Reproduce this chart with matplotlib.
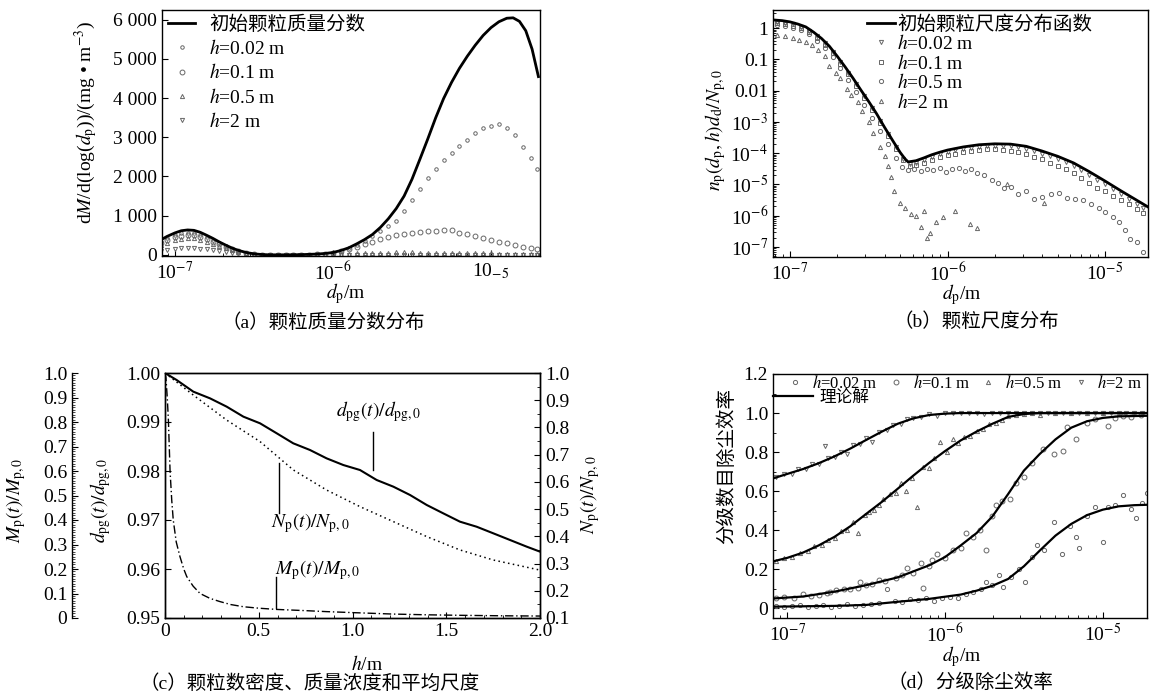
import numpy as np
import matplotlib
matplotlib.use('Agg')
import matplotlib.pyplot as plt
from matplotlib.ticker import FixedLocator, MultipleLocator, LogLocator, NullFormatter

plt.rcParams['font.family'] = ['Liberation Serif', 'Noto Sans CJK SC']
plt.rcParams['mathtext.fontset'] = 'stix'
plt.rcParams['font.size'] = 14
plt.rcParams['axes.linewidth'] = 1.0

# ---------------- (a) mass fraction, dM/dlog(dp) ----------------
a_init_logd = [-7.09, -7.05, -7.00, -6.96, -6.92, -6.88, -6.84, -6.80, -6.76, -6.72,
               -6.68, -6.64, -6.60, -6.55, -6.50, -6.45, -6.40, -6.30, -6.20, -6.10,
               -6.05, -6.00, -5.95, -5.90, -5.85, -5.80, -5.75, -5.70, -5.65, -5.60,
               -5.55, -5.50, -5.45, -5.40, -5.35, -5.30, -5.25, -5.20, -5.15, -5.10,
               -5.05, -5.00, -4.95, -4.90, -4.86, -4.82, -4.78, -4.74, -4.70]
a_init = [380, 470, 560, 615, 635, 625, 575, 500, 420, 330,
          250, 175, 115, 60, 25, 8, 0, 0, 5, 20,
          35, 60, 110, 180, 280, 390, 520, 700, 920, 1180,
          1500, 1930, 2440, 2960, 3500, 3990, 4400, 4760, 5070, 5350,
          5600, 5800, 5950, 6040, 6050, 5960, 5720, 5250, 4550]
a_mk_logd = [-7.09, -7.05, -7.00, -6.96, -6.92, -6.88, -6.84, -6.80, -6.76, -6.72,
             -6.68, -6.64, -6.60, -6.55, -6.50, -6.45, -6.40, -6.35, -6.30, -6.25,
             -6.20, -6.15, -6.10, -6.05, -6.00, -5.95, -5.90, -5.85, -5.80, -5.75,
             -5.70, -5.65, -5.60, -5.55, -5.50, -5.45, -5.40, -5.35, -5.30, -5.25,
             -5.20, -5.15, -5.10, -5.05, -5.00, -4.95, -4.90, -4.85, -4.80, -4.75, -4.71]
a_h002 = [340, 420, 500, 545, 565, 555, 510, 445, 370, 290,
          220, 155, 100, 50, 20, 6, 0, 0, 0, 0,
          2, 6, 15, 30, 55, 100, 165, 260, 360, 480,
          620, 740, 870, 1120, 1400, 1680, 1950, 2200, 2420, 2600,
          2780, 2940, 3100, 3230, 3300, 3350, 3250, 3060, 2740, 2480, 2200]
a_h01 = [300, 375, 445, 490, 505, 495, 460, 400, 335, 265,
         200, 140, 92, 48, 18, 5, 0, 0, 0, 0,
         2, 5, 14, 28, 50, 90, 140, 200, 270, 340,
         400, 450, 500, 535, 565, 590, 605, 620, 640, 645,
         560, 520, 480, 430, 380, 335, 290, 250, 210, 175, 150]
a_h05 = [250, 310, 370, 410, 430, 420, 390, 340, 285, 225,
         170, 120, 80, 40, 15, 4, 0, 0, 0, 0,
         0, 2, 5, 10, 15, 22, 30, 38, 45, 50,
         55, 58, 60, 60, 60, 58, 55, 52, 50, 47,
         45, 42, 40, 37, 35, 32, 30, 27, 25, 22, 20]
a_h2 = [100, 130, 155, 170, 175, 170, 160, 140, 115, 90,
        65, 45, 28, 14, 5, 0, 0, 0, 0, 0,
        0, 0, 0, 1, 2, 3, 4, 5, 6, 7,
        8, 8, 8, 8, 8, 8, 8, 7, 7, 6,
        6, 5, 5, 5, 4, 4, 3, 3, 3, 2, 2]

# ---------------- (b) size distribution (log10 values) ----------------
b_init_logd = [-7.10, -7.05, -7.00, -6.95, -6.90, -6.85, -6.80, -6.75, -6.70, -6.65,
               -6.60, -6.55, -6.50, -6.45, -6.40, -6.35, -6.30, -6.27, -6.25, -6.20,
               -6.15, -6.10, -6.05, -6.00, -5.90, -5.80, -5.70, -5.60, -5.50, -5.40,
               -5.30, -5.20, -5.10, -5.00, -4.90, -4.80, -4.72]
b_init_logn = [0.26, 0.24, 0.20, 0.13, 0.04, -0.13, -0.33, -0.58, -0.90, -1.24,
               -1.60, -1.98, -2.35, -2.74, -3.17, -3.58, -3.98, -4.18, -4.28, -4.24,
               -4.15, -4.05, -3.97, -3.90, -3.80, -3.73, -3.70, -3.71, -3.78, -3.93,
               -4.10, -4.31, -4.59, -4.89, -5.20, -5.50, -5.74]
b_mk_logd = [-7.08, -7.03, -6.98, -6.93, -6.88, -6.83, -6.78, -6.73, -6.68, -6.63,
             -6.58, -6.53, -6.48, -6.43, -6.38, -6.33, -6.28, -6.24, -6.20, -6.15,
             -6.10, -6.05, -6.00, -5.95, -5.90, -5.85, -5.80, -5.75, -5.70, -5.65,
             -5.60, -5.55, -5.50, -5.45, -5.40, -5.35, -5.30, -5.25, -5.20, -5.15,
             -5.10, -5.05, -5.00, -4.95, -4.90, -4.85, -4.80, -4.76]
b_h002 = [0.20, 0.17, 0.12, 0.05, -0.08, -0.26, -0.48, -0.76, -1.09, -1.43,
          -1.80, -2.18, -2.57, -2.97, -3.39, -3.80, -4.17, -4.33, -4.30, -4.21,
          -4.11, -4.03, -3.96, -3.91, -3.86, -3.82, -3.79, -3.77, -3.76, -3.77,
          -3.78, -3.81, -3.86, -3.93, -4.01, -4.10, -4.19, -4.29, -4.40, -4.54,
          -4.69, -4.85, -5.00, -5.15, -5.31, -5.47, -5.62, -5.74]
b_h01 = [0.15, 0.12, 0.07, 0.00, -0.13, -0.31, -0.53, -0.81, -1.14, -1.48,
         -1.85, -2.23, -2.62, -3.02, -3.44, -3.86, -4.23, -4.40, -4.38, -4.30,
         -4.21, -4.13, -4.06, -4.01, -3.96, -3.92, -3.89, -3.88, -3.88, -3.89,
         -3.92, -3.97, -4.03, -4.11, -4.20, -4.30, -4.40, -4.52, -4.64, -4.79,
         -4.95, -5.10, -5.22, -5.36, -5.50, -5.64, -5.78, -5.90]
b_h05_logd = [-7.08, -7.03, -6.98, -6.93, -6.88, -6.83, -6.78, -6.73, -6.68, -6.63,
              -6.58, -6.53, -6.48, -6.43, -6.38, -6.33, -6.29, -6.25, -6.21, -6.17,
              -6.13, -6.09, -6.05, -6.01, -5.97, -5.93, -5.89, -5.85, -5.81, -5.77,
              -5.72, -5.68, -5.64, -5.60, -5.55, -5.50, -5.45, -5.40, -5.34, -5.29,
              -5.24, -5.19, -5.14, -5.09, -5.04, -5.00, -4.95, -4.91, -4.87, -4.84,
              -4.80, -4.76]
b_h05 = [0.10, 0.07, 0.02, -0.06, -0.20, -0.40, -0.63, -0.93, -1.28, -1.65,
         -2.05, -2.45, -2.86, -3.28, -3.72, -4.15, -4.45, -4.55, -4.52, -4.58,
         -4.50, -4.55, -4.48, -4.60, -4.52, -4.47, -4.56, -4.50, -4.62, -4.70,
         -4.85, -4.95, -5.10, -5.08, -5.30, -5.20, -5.45, -5.40, -5.30, -5.28,
         -5.42, -5.48, -5.50, -5.62, -5.75, -5.87, -6.05, -6.20, -6.45, -6.73,
         -6.85, -7.15]
b_h2_logd = [-7.08, -7.03, -6.98, -6.94, -6.90, -6.86, -6.82, -6.78, -6.75, -6.71,
             -6.68, -6.64, -6.61, -6.57, -6.54, -6.50, -6.47, -6.43, -6.40, -6.38,
             -6.36, -6.34, -6.30, -6.27, -6.23, -6.20, -6.17, -6.15, -6.13, -6.11,
             -6.07, -6.03, -5.95, -5.86, -5.81, -5.62, -5.39]
b_h2 = [-0.22, -0.26, -0.31, -0.37, -0.44, -0.55, -0.70, -0.90, -1.20, -1.45,
        -1.60, -1.95, -2.15, -2.35, -2.65, -3.00, -3.35, -3.80, -4.10, -4.40,
        -4.75, -5.20, -5.60, -5.75, -5.95, -6.00, -6.35, -5.85, -6.70, -6.55,
        -6.20, -6.05, -5.85, -6.25, -6.40, -5.00, -5.60]

# ---------------- (c) number, mass and mean size vs h ----------------
c_d_h = [0.0, 0.062, 0.151, 0.24, 0.329, 0.418, 0.507, 0.596, 0.684, 0.773, 0.862, 0.951,
         1.04, 1.129, 1.218, 1.307, 1.396, 1.484, 1.573, 1.662, 1.751, 1.84, 1.929, 2.0]
c_dpg = [1.0, 0.99857, 0.99619, 0.99483, 0.99313, 0.99109, 0.98973, 0.98769, 0.98565,
         0.98429, 0.98258, 0.98122, 0.9802, 0.97816, 0.9768, 0.9751, 0.97306, 0.97136,
         0.96966, 0.96863, 0.96728, 0.96592, 0.96456, 0.96354]
c_n_h = [0.0, 0.151, 0.329, 0.507, 0.684, 0.862, 1.04, 1.218, 1.396, 1.573, 1.751, 2.0]
c_np = [1.0, 0.919, 0.827, 0.748, 0.644, 0.570, 0.509, 0.454, 0.399, 0.35, 0.313, 0.276]
c_m_h = [0.0, 0.005, 0.012, 0.018, 0.027, 0.036, 0.044, 0.06, 0.08, 0.1, 0.116, 0.15,
         0.187, 0.24, 0.293, 0.35, 0.418, 0.5, 0.596, 0.75, 0.862, 1.0, 1.218, 1.4,
         1.573, 1.8, 2.0]
c_mp = [1.0, 0.98, 0.90, 0.81, 0.60, 0.48, 0.40, 0.31, 0.25, 0.20, 0.169, 0.13,
        0.10, 0.08, 0.067, 0.055, 0.046, 0.04, 0.035, 0.03, 0.026, 0.022, 0.016, 0.013,
        0.011, 0.009, 0.008]

# ---------------- (d) fractional collection efficiency ----------------
d_th1_logd = [-7.09, -7.0, -6.9, -6.8, -6.7, -6.6, -6.5, -6.4, -6.3, -6.2, -6.1, -6.0,
              -5.9, -5.5, -5.0, -4.72]
d_th1 = [0.665, 0.688, 0.713, 0.743, 0.778, 0.818, 0.862, 0.905, 0.945, 0.973, 0.990,
         0.997, 1.0, 1.0, 1.0, 1.0]
d_th2_logd = [-7.09, -7.0, -6.9, -6.8, -6.7, -6.6, -6.5, -6.4, -6.3, -6.2, -6.1, -6.0,
              -5.9, -5.8, -5.7, -5.6, -5.5, -5.4, -5.0, -4.72]
d_th2 = [0.240, 0.258, 0.285, 0.322, 0.366, 0.420, 0.483, 0.545, 0.612, 0.680, 0.745,
         0.805, 0.860, 0.905, 0.945, 0.980, 0.995, 1.0, 1.0, 1.0]
d_th3_logd = [-7.09, -6.9, -6.7, -6.5, -6.3, -6.1, -6.0, -5.9, -5.8, -5.7, -5.6, -5.5,
              -5.4, -5.3, -5.2, -5.1, -5.0, -4.9, -4.72]
d_th3 = [0.050, 0.060, 0.085, 0.118, 0.158, 0.220, 0.262, 0.322, 0.385, 0.470, 0.585,
         0.705, 0.790, 0.865, 0.925, 0.958, 0.975, 0.983, 0.986]
d_th4_logd = [-7.09, -6.7, -6.5, -6.3, -6.1, -5.9, -5.8, -5.7, -5.6, -5.5, -5.4, -5.3,
              -5.2, -5.1, -5.0, -4.9, -4.8, -4.72]
d_th4 = [0.008, 0.012, 0.017, 0.033, 0.048, 0.070, 0.090, 0.115, 0.150, 0.215, 0.295,
         0.372, 0.432, 0.477, 0.505, 0.522, 0.528, 0.530]

d_h2_logd = [-7.07, -7.02, -6.97, -6.93, -6.88, -6.84, -6.80, -6.76, -6.74, -6.70,
             -6.66, -6.62, -6.58, -6.54, -6.50, -6.46, -6.42, -6.37, -6.33, -6.28,
             -6.24, -6.20, -6.15, -6.10, -6.05, -6.00, -5.95, -5.90, -5.85, -5.80,
             -5.75, -5.70, -5.65, -5.60, -5.55, -5.50, -5.45, -5.40, -5.35, -5.30,
             -5.25, -5.20, -5.15, -5.10, -5.05, -5.00, -4.95, -4.90, -4.85, -4.80, -4.75]
d_h2 = [0.672, 0.690, 0.688, 0.712, 0.715, 0.738, 0.740, 0.830, 0.770, 0.775,
        0.800, 0.790, 0.835, 0.840, 0.870, 0.850, 0.905, 0.915, 0.940, 0.945,
        0.968, 0.975, 0.980, 0.995, 0.985, 1.0, 0.998, 1.0, 1.0, 1.0,
        0.995, 1.0, 1.0, 1.0, 1.0, 1.0, 1.0, 1.0, 1.0, 1.0,
        1.0, 1.0, 1.0, 1.0, 1.0, 1.0, 1.0, 1.0, 1.0, 1.0, 1.0]
d_h05_logd = [-7.07, -7.02, -6.97, -6.92, -6.87, -6.83, -6.78, -6.74, -6.70, -6.66,
              -6.62, -6.58, -6.55, -6.51, -6.48, -6.45, -6.42, -6.39, -6.35, -6.31,
              -6.28, -6.25, -6.21, -6.18, -6.14, -6.10, -6.07, -6.03, -5.99, -5.95,
              -5.92, -5.88, -5.84, -5.80, -5.76, -5.72, -5.68, -5.64, -5.60, -5.55,
              -5.50, -5.45, -5.40, -5.30, -5.20, -5.10, -5.00, -4.90, -4.80, -4.75]
d_h05 = [0.240, 0.258, 0.262, 0.285, 0.292, 0.318, 0.325, 0.352, 0.360, 0.395,
         0.400, 0.442, 0.383, 0.480, 0.492, 0.505, 0.527, 0.560, 0.585, 0.590,
         0.640, 0.600, 0.668, 0.520, 0.725, 0.720, 0.770, 0.850, 0.800, 0.867,
         0.845, 0.875, 0.880, 0.910, 0.918, 0.945, 0.950, 0.965, 0.985, 0.992,
         0.995, 1.0, 0.990, 1.0, 1.0, 1.0, 1.0, 1.0, 1.0, 1.0]
d_h01_logd = [-7.07, -7.02, -6.96, -6.90, -6.85, -6.80, -6.75, -6.73, -6.69, -6.64,
              -6.60, -6.55, -6.54, -6.50, -6.46, -6.42, -6.38, -6.31, -6.27, -6.24,
              -6.20, -6.15, -6.14, -6.10, -6.08, -6.05, -6.00, -5.95, -5.90, -5.87,
              -5.82, -5.78, -5.74, -5.70, -5.68, -5.64, -5.59, -5.55, -5.50, -5.45,
              -5.38, -5.31, -5.25, -5.23, -5.17, -5.10, -5.05, -4.97, -4.92, -4.87,
              -4.82, -4.76]
d_h01 = [0.050, 0.058, 0.052, 0.075, 0.062, 0.068, 0.080, 0.085, 0.092, 0.100,
         0.098, 0.105, 0.136, 0.120, 0.125, 0.144, 0.140, 0.153, 0.170, 0.204,
         0.180, 0.230, 0.102, 0.215, 0.246, 0.280, 0.255, 0.300, 0.310, 0.383,
         0.365, 0.400, 0.300, 0.470, 0.527, 0.550, 0.561, 0.640, 0.671, 0.745,
         0.816, 0.790, 0.808, 0.927, 0.867, 0.950, 0.968, 0.935, 0.975, 0.985,
         0.980, 0.990]
d_h002_logd = [-7.07, -7.02, -6.97, -6.92, -6.87, -6.82, -6.77, -6.72, -6.67, -6.62,
               -6.57, -6.52, -6.47, -6.42, -6.37, -6.32, -6.27, -6.22, -6.17, -6.12,
               -6.07, -6.02, -5.97, -5.92, -5.87, -5.82, -5.77, -5.74, -5.70, -5.66,
               -5.63, -5.58, -5.53, -5.49, -5.45, -5.42, -5.37, -5.31, -5.26, -5.21,
               -5.17, -5.15, -5.10, -5.05, -5.00, -4.97, -4.92, -4.87, -4.82, -4.79,
               -4.75, -4.72]
d_h002 = [0.010, 0.005, 0.012, 0.015, 0.008, 0.010, 0.018, 0.006, 0.012, 0.020,
          0.010, 0.015, 0.022, 0.028, 0.100, 0.035, 0.030, 0.045, 0.040, 0.050,
          0.038, 0.055, 0.060, 0.050, 0.075, 0.085, 0.100, 0.136, 0.120, 0.170,
          0.110, 0.160, 0.200, 0.136, 0.260, 0.323, 0.300, 0.442, 0.280, 0.420,
          0.365, 0.310, 0.470, 0.520, 0.340, 0.518, 0.530, 0.578, 0.510, 0.460,
          0.540, 0.590]

h_labels = [r'$h$=0.02 m', r'$h$=0.1 m', r'$h$=0.5 m', r'$h$=2 m']
captions = ['（a）颗粒质量分数分布', '（b）颗粒尺度分布',
            '（c）颗粒数密度、质量浓度和平均尺度', '（d）分级除尘效率']

W, H = 1151, 696
fig = plt.figure(figsize=(W / 100, H / 100), dpi=100)


def box(x0, y0, x1, y1):
    return [x0 / W, 1 - y1 / H, (x1 - x0) / W, (y1 - y0) / H]


def ftext(x, y, s, **kw):
    fig.text(x / W, 1 - y / H, s, ha='center', va='center', **kw)


def style(ax):
    ax.tick_params(which='both', direction='in', labelsize=14)
    ax.tick_params(which='major', length=4, width=0.8)
    ax.tick_params(which='minor', length=2, width=0.6)


def p10(v):
    return 10.0 ** np.asarray(v)


MK = dict(ls='none', color='0.4', mfc='none', mew=0.7)
log_labels = {1e-7: r'10$^{-7}$', 1e-6: r'10$^{-6}$', 1e-5: r'10$^{-5}$'}

# ---------- (a) ----------
ax = fig.add_axes(box(162, 10, 540, 256))
l0, = ax.plot(p10(a_init_logd), a_init, color='k', lw=2.0, zorder=5)
l1, = ax.plot(p10(a_mk_logd), a_h002, marker='o', ms=2.5, **MK)
l2, = ax.plot(p10(a_mk_logd), a_h01, marker='o', ms=3.5, **MK)
l3, = ax.plot(p10(a_mk_logd), a_h05, marker='^', ms=3, **MK)
l4, = ax.plot(p10(a_mk_logd), a_h2, marker='v', ms=3, **MK)
ax.set_xscale('log')
ax.set_xlim(10 ** -7.082, 10 ** -4.69)
ax.set_ylim(-30, 6250)
ax.set_yticks(range(0, 6001, 1000))
ax.set_yticklabels(['0', '1 000', '2 000', '3 000', '4 000', '5 000', '6 000'])
ax.set_xticks([1e-7, 1e-6, 1e-5])
ax.set_xticklabels([r'10$^{-7}$', r'10$^{-6}$', r'10$_{-5}$'])
style(ax)
ax.legend([l0, l1, l2, l3, l4], ['初始颗粒质量分数'] + h_labels, loc='upper left',
          bbox_to_anchor=(168 / W, 1 - 15 / H), bbox_transform=fig.transFigure,
          frameon=False, fontsize=14, handlelength=1.4, handletextpad=0.7,
          labelspacing=0.28, borderpad=0, borderaxespad=0)
ftext(86, 122, r'd$M$/d(log($d_{\rm p}$))/(mg • m$^{-3}$)', rotation=90, fontsize=14)
ftext(346, 294, r'$d_{\rm p}$/m', fontsize=14)
ftext(323, 323, captions[0], fontsize=14)

# ---------- (b) ----------
ax = fig.add_axes(box(773, 10, 1148, 257))
m1, = ax.plot(p10(b_mk_logd), p10(b_h002), marker='v', ms=3, **MK)
m2, = ax.plot(p10(b_mk_logd), p10(b_h01), marker='s', ms=2.2, **MK)
m3, = ax.plot(p10(b_h05_logd), p10(b_h05), marker='o', ms=3, **MK)
m4, = ax.plot(p10(b_h2_logd), p10(b_h2), marker='^', ms=3, **MK)
m0, = ax.plot(p10(b_init_logd), p10(b_init_logn), color='k', lw=2.0, zorder=5)
ax.set_xscale('log')
ax.set_yscale('log')
ax.set_xlim(10 ** -7.108, 10 ** -4.727)
ax.set_ylim(10 ** -7.32, 10 ** 0.58)
ax.yaxis.set_major_locator(FixedLocator([1e-7, 1e-6, 1e-5, 1e-4, 1e-3, 1e-2, 1e-1, 1]))
ax.set_yticklabels([r'10$^{-7}$', r'10$^{-6}$', r'10$^{-5}$', r'10$^{-4}$',
                    r'10$^{-3}$', '0.01', '0.1', '1'])
ax.yaxis.set_minor_locator(LogLocator(base=10, subs=np.arange(2, 10), numticks=30))
ax.yaxis.set_minor_formatter(NullFormatter())
ax.set_xticks([1e-7, 1e-6, 1e-5])
ax.set_xticklabels([log_labels[v] for v in [1e-7, 1e-6, 1e-5]])
style(ax)
ax.legend([m0, m1, m2, m3, m4], ['初始颗粒尺度分布函数'] + h_labels, loc='upper left',
          bbox_to_anchor=(867 / W, 1 - 15 / H), bbox_transform=fig.transFigure,
          frameon=False, fontsize=14, handlelength=1.45, handletextpad=0.1,
          labelspacing=0.03, borderpad=0, borderaxespad=0)
ftext(716, 130, r'$n_{\rm p}(d_{\rm p},h)d_{\rm d}/N_{\rm p,0}$', rotation=90, fontsize=14)
ftext(962, 295, r'$d_{\rm p}$/m', fontsize=14)
ftext(976, 322, captions[1], fontsize=14)

# ---------- (c) ----------
ax = fig.add_axes(box(165, 373, 540, 618))
ax.plot(c_d_h, c_dpg, color='k', lw=1.5)
ax.set_xlim(0, 2.0)
ax.set_ylim(0.95, 1.00)
ax.set_xticks([0, 0.5, 1.0, 1.5, 2.0])
ax.set_xticklabels(['0', '0.5', '1.0', '1.5', '2.0'])
ax.xaxis.set_minor_locator(MultipleLocator(0.1))
ax.set_yticks([0.95, 0.96, 0.97, 0.98, 0.99, 1.00])
ax.set_yticklabels(['0.95', '0.96', '0.97', '0.98', '0.99', '1.00'])
style(ax)

axn = ax.twinx()
axn.plot(c_n_h, c_np, color='k', lw=1.1, ls=(0, (1, 2.2)))
axn.set_ylim(0.1, 1.0)
axn.set_yticks(np.round(np.arange(0.1, 1.01, 0.1), 1))
axn.set_yticklabels(['0.1', '0.2', '0.3', '0.4', '0.5', '0.6', '0.7', '0.8', '0.9', '1.0'])
axn.yaxis.set_minor_locator(MultipleLocator(0.05))
style(axn)

axm = ax.twinx()
axm.plot(c_m_h, c_mp, color='k', lw=1.0, ls=(0, (6, 2, 1, 2)))
axm.set_ylim(0, 1.0)
for s in ['right', 'top', 'bottom']:
    axm.spines[s].set_visible(False)
axm.spines['left'].set_visible(True)
axm.spines['left'].set_position(('axes', -93 / 375))
axm.yaxis.set_ticks_position('left')
axm.set_yticks(np.round(np.arange(0, 1.01, 0.1), 1))
axm.set_yticklabels(['0', '0.1', '0.2', '0.3', '0.4', '0.5', '0.6', '0.7', '0.8', '0.9', '1.0'])
axm.yaxis.set_minor_locator(MultipleLocator(0.01))
style(axm)
axm.tick_params(which='minor', length=2.5, width=0.5)

ax.text(1.141, 0.99204, r'$d_{\rm pg}(t)/d_{\rm pg,0}$', ha='center', va='center', fontsize=14)
ax.plot([1.109, 1.109], [0.98796, 0.98020], color='k', lw=1.0)
ax.text(0.773, 0.96939, r'$N_{\rm p}(t)/N_{\rm p,0}$', ha='center', va='center', fontsize=14)
ax.plot([0.608, 0.608], [0.98163, 0.97143], color='k', lw=1.0)
ax.text(0.816, 0.95980, r'$M_{\rm p}(t)/M_{\rm p,0}$', ha='center', va='center', fontsize=14)
ax.plot([0.592, 0.592], [0.95837, 0.95204], color='k', lw=1.0)

ftext(16, 500, r'$M_{\rm p}(t)/M_{\rm p,0}$', rotation=90, fontsize=14)
ftext(101, 500, r'$d_{\rm pg}(t)/d_{\rm pg,0}$', rotation=90, fontsize=14)
ftext(590, 495, r'$N_{\rm p}(t)/N_{\rm p,0}$', rotation=90, fontsize=14)
ftext(367, 665, r'$h$/m', fontsize=14)
ftext(310, 684, captions[2], fontsize=14)

# ---------- (d) ----------
ax = fig.add_axes(box(773, 374, 1147, 618))
s1, = ax.plot(p10(d_h002_logd), d_h002, marker='o', ms=3, **MK)
s2, = ax.plot(p10(d_h01_logd), d_h01, marker='o', ms=3.5, **MK)
s3, = ax.plot(p10(d_h05_logd), d_h05, marker='^', ms=3, **MK)
s4, = ax.plot(p10(d_h2_logd), d_h2, marker='v', ms=3, **MK)
t1, = ax.plot(p10(d_th1_logd), d_th1, color='k', lw=1.6, zorder=5)
ax.plot(p10(d_th2_logd), d_th2, color='k', lw=1.6, zorder=5)
ax.plot(p10(d_th3_logd), d_th3, color='k', lw=1.6, zorder=5)
ax.plot(p10(d_th4_logd), d_th4, color='k', lw=1.6, zorder=5)
ax.set_xscale('log')
ax.set_xlim(10 ** -7.09, 10 ** -4.72)
ax.set_ylim(-0.05, 1.2)
ax.set_yticks([0, 0.2, 0.4, 0.6, 0.8, 1.0, 1.2])
ax.set_yticklabels(['0', '0.2', '0.4', '0.6', '0.8', '1.0', '1.2'])
ax.yaxis.set_minor_locator(MultipleLocator(0.1))
ax.set_xticks([1e-7, 1e-6, 1e-5])
ax.set_xticklabels([log_labels[v] for v in [1e-7, 1e-6, 1e-5]])
style(ax)
leg = ax.legend([s1, s2, s3, s4], h_labels, loc='center left', ncol=4,
                bbox_to_anchor=(787 / W, 1 - 383 / H), bbox_transform=fig.transFigure,
                frameon=False, fontsize=12, handlelength=1.0, handletextpad=0.5,
                columnspacing=0.6, borderpad=0, borderaxespad=0)
ax.add_artist(leg)
ax.legend([t1], ['理论解'], loc='center left',
          bbox_to_anchor=(773 / W, 1 - 398 / H), bbox_transform=fig.transFigure,
          frameon=False, fontsize=12, handlelength=2.4, handletextpad=0.4,
          borderpad=0, borderaxespad=0)
ftext(727, 466, '分级数目除尘效率', rotation=90, fontsize=14)
ftext(962, 657, r'$d_{\rm p}$/m', fontsize=14)
ftext(970, 683, captions[3], fontsize=14)

fig.savefig('out.png', dpi=100)
